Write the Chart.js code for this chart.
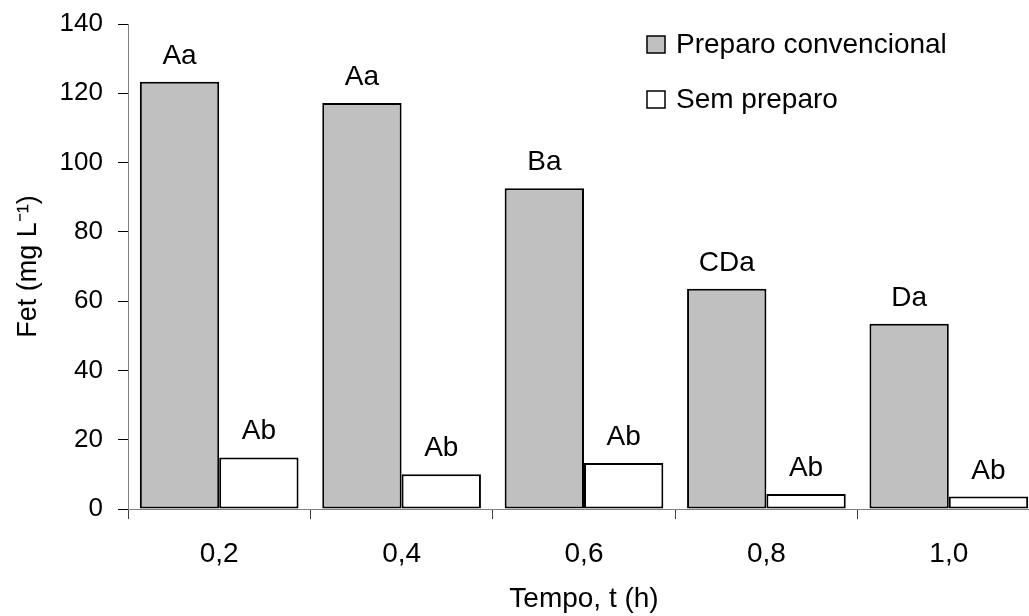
<!DOCTYPE html>
<html>
<head>
<meta charset="utf-8">
<script src="https://cdn.jsdelivr.net/npm/chart.js@4.4.1/dist/chart.umd.min.js"></script>
<style>
  body { margin: 0; overflow: hidden; background: #fff; }
  #wrap { width: 1060px; height: 616px; }
</style>
</head>
<body>
<div id="wrap"><canvas id="grafico" width="1060" height="616"></canvas></div>
<script>
// tempos de amostragem e Fe total em cada sistema
const categorias = ["0,2", "0,4", "0,6", "0,8", "1,0"];
const preparoConvencional = [123.3, 117.2, 92.6, 63.6, 53.5];
const semPreparo = [14.9, 10.0, 13.3, 4.3, 3.6];

// letras do teste de médias sobre cada barra
const letrasConvencional = ["Aa", "Aa", "Ba", "CDa", "Da"];
const letrasSem = ["Ab", "Ab", "Ab", "Ab", "Ab"];

Chart.defaults.font.family = '"Liberation Sans", Arial, sans-serif';
Chart.defaults.color = "#000";

// escreve as letras acima das barras
const letrasPlugin = {
  id: "letras",
  afterDatasetsDraw(chart) {
    const ctx = chart.ctx;
    ctx.save();
    ctx.font = '28px "Liberation Sans", Arial, sans-serif';
    ctx.fillStyle = "#000";
    ctx.textAlign = "center";
    ctx.textBaseline = "alphabetic";
    chart.data.datasets.forEach((ds, i) => {
      chart.getDatasetMeta(i).data.forEach((bar, j) => {
        ctx.fillText(ds.letras[j], bar.x, bar.y - 18);
      });
    });
    ctx.restore();
  }
};

// legenda dentro da área do gráfico
const legendaPlugin = {
  id: "legenda",
  afterDraw(chart, args, opts) {
    const ctx = chart.ctx;
    ctx.save();
    ctx.font = '28px "Liberation Sans", Arial, sans-serif';
    ctx.textBaseline = "middle";
    ctx.textAlign = "left";
    chart.data.datasets.forEach((ds, i) => {
      const y = opts.top + i * opts.spacing;
      ctx.fillStyle = ds.backgroundColor;
      ctx.fillRect(opts.left, y, 18, 17);
      ctx.strokeStyle = "#000";
      ctx.lineWidth = 1.5;
      ctx.strokeRect(opts.left, y, 18, 17);
      ctx.fillStyle = "#000";
      ctx.fillText(ds.label, opts.left + 29, y + 9);
    });
    ctx.restore();
  }
};

new Chart(document.getElementById("grafico"), {
  type: "bar",
  data: {
    labels: categorias,
    datasets: [
      {
        label: "Preparo convencional",
        data: preparoConvencional,
        letras: letrasConvencional,
        backgroundColor: "#c0c0c0",
        borderColor: "#000",
        borderWidth: 2,
        borderSkipped: false,
        barPercentage: 1,
        categoryPercentage: 0.87
      },
      {
        label: "Sem preparo",
        data: semPreparo,
        letras: letrasSem,
        backgroundColor: "#ffffff",
        borderColor: "#000",
        borderWidth: 2,
        borderSkipped: false,
        barPercentage: 1,
        categoryPercentage: 0.87
      }
    ]
  },
  options: {
    responsive: false,
    animation: false,
    layout: { padding: { top: 24, right: 20, bottom: 0, left: 0 } },
    plugins: {
      legend: { display: false },
      tooltip: { enabled: false },
      legenda: { left: 647, top: 36, spacing: 55 }
    },
    scales: {
      x: {
        ticks: { color: "#000", font: { size: 28 }, padding: 18 },
        grid: { offset: true, drawOnChartArea: false, tickLength: 10, tickColor: "#404040" },
        border: { color: "#808080", width: 1 },
        title: { display: true, text: "Tempo, t (h)", color: "#000", font: { size: 28 }, padding: { top: 0, bottom: 0 } },
        afterFit(scale) { scale.height = 107; }
      },
      y: {
        min: 0,
        max: 140,
        ticks: { stepSize: 20, color: "#000", font: { size: 26 }, padding: 15 },
        grid: { drawOnChartArea: false, tickLength: 10, tickColor: "#000" },
        border: { color: "#808080", width: 1 },
        title: { display: true, text: "Fet (mg L⁻¹)", color: "#000", font: { size: 27 }, padding: { top: 12, bottom: 0 } },
        afterFit(scale) {
          scale.width = 128;
          // o espaço do rótulo "140" já cabe na margem superior
          scale.paddingTop = 0;
          scale.paddingBottom = 0;
        }
      }
    }
  },
  plugins: [letrasPlugin, legendaPlugin]
});
</script>
</body>
</html>
